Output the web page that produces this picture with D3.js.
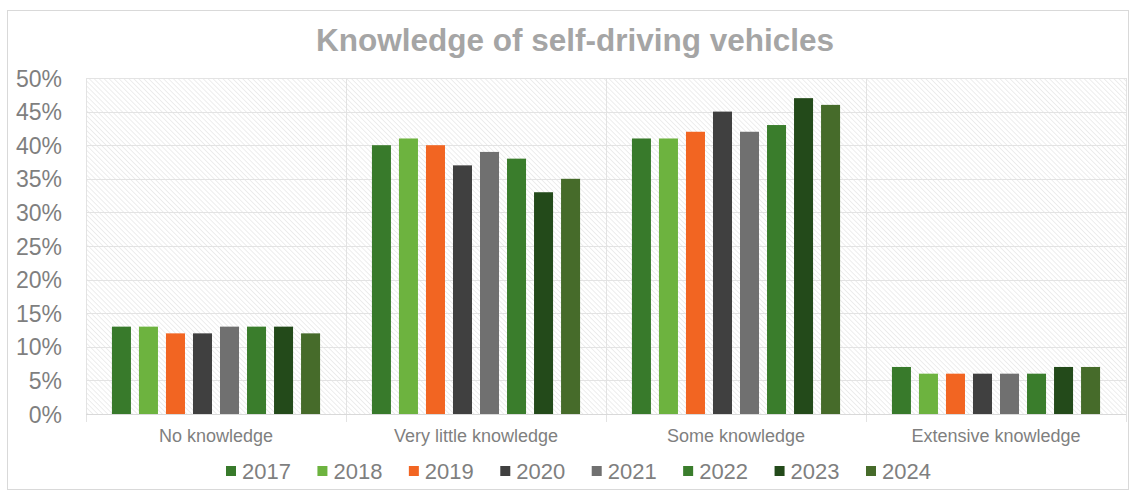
<!DOCTYPE html>
<html>
<head>
<meta charset="utf-8">
<script src="https://cdn.jsdelivr.net/npm/d3@7"></script>
<style>
  html, body { margin: 0; padding: 0; background: #ffffff; }
  svg { display: block; font-family: Arial, "Liberation Sans", sans-serif; }
</style>
</head>
<body>
<svg id="chart" width="1131" height="492"></svg>
<script>
// Survey answers, share of respondents by year
const categories = ["No knowledge", "Very little knowledge", "Some knowledge", "Extensive knowledge"];
const years = ["2017", "2018", "2019", "2020", "2021", "2022", "2023", "2024"];
const values2017 = [13, 40, 41, 7];
const values2018 = [13, 41, 41, 6];
const values2019 = [12, 40, 42, 6];
const values2020 = [12, 37, 45, 6];
const values2021 = [13, 39, 42, 6];
const values2022 = [13, 38, 43, 6];
const values2023 = [13, 33, 47, 7];
const values2024 = [12, 35, 46, 7];
const yTicks = [0, 5, 10, 15, 20, 25, 30, 35, 40, 45, 50];
const colors = ["#387a2b", "#6db33f", "#f26522", "#404040", "#707070", "#3a7d2c", "#234a1a", "#466b2a"];

const series = [values2017, values2018, values2019, values2020, values2021, values2022, values2023, values2024];

const svg = d3.select("#chart");
const margin = { left: 86, right: 1126, top: 78, bottom: 414 };

// Outer frame
svg.append("rect")
  .attr("x", 7.5).attr("y", 10.5)
  .attr("width", 1121).attr("height", 479)
  .attr("fill", "#ffffff").attr("stroke", "#d9d9d9").attr("stroke-width", 1);

// Diagonal hatch fill for the plot area
const defs = svg.append("defs");
const pat = defs.append("pattern")
  .attr("id", "hatch")
  .attr("patternUnits", "userSpaceOnUse")
  .attr("width", 3.5).attr("height", 3.5)
  .attr("patternTransform", "rotate(-45)");
pat.append("rect").attr("width", 3.5).attr("height", 3.5).attr("fill", "#ffffff");
pat.append("line")
  .attr("x1", 0).attr("y1", 0).attr("x2", 0).attr("y2", 3.5)
  .attr("stroke", "#e6e6e6").attr("stroke-width", 1.4);

const x0 = d3.scaleBand()
  .domain(categories)
  .range([margin.left, margin.right])
  .paddingInner(0).paddingOuter(0);

const x1 = d3.scaleBand()
  .domain(years)
  .range([0, x0.bandwidth()])
  .paddingInner(0.296)
  .paddingOuter(0.96);

const y = d3.scaleLinear()
  .domain([0, 50])
  .range([margin.bottom, margin.top]);

svg.append("rect")
  .attr("x", margin.left).attr("y", margin.top)
  .attr("width", margin.right - margin.left)
  .attr("height", margin.bottom - margin.top)
  .attr("fill", "url(#hatch)");

// Horizontal gridlines
svg.append("g")
  .selectAll("line")
  .data(yTicks)
  .join("line")
  .attr("x1", margin.left).attr("x2", margin.right)
  .attr("y1", d => Math.round(y(d)) + 0.5).attr("y2", d => Math.round(y(d)) + 0.5)
  .attr("stroke", "#e3e3e3").attr("stroke-width", 1);

// Vertical category separators (extend below the axis as tick marks)
const seps = categories.map(c => x0(c)).concat([margin.right]);
svg.append("g")
  .selectAll("line")
  .data(seps)
  .join("line")
  .attr("x1", d => Math.round(d) + 0.5).attr("x2", d => Math.round(d) + 0.5)
  .attr("y1", margin.top).attr("y2", margin.bottom + 8)
  .attr("stroke", "#e3e3e3").attr("stroke-width", 1);

// Baseline
svg.append("line")
  .attr("x1", margin.left).attr("x2", margin.right)
  .attr("y1", margin.bottom + 0.5).attr("y2", margin.bottom + 0.5)
  .attr("stroke", "#d9d9d9");

// Bars
const barData = [];
categories.forEach((c, ci) => {
  years.forEach((yr, yi) => {
    barData.push({ cat: c, year: yr, value: series[yi][ci], color: colors[yi] });
  });
});

svg.append("g")
  .selectAll("rect")
  .data(barData)
  .join("rect")
  .attr("x", d => x0(d.cat) + x1(d.year))
  .attr("y", d => y(d.value))
  .attr("width", x1.bandwidth())
  .attr("height", d => y(0) - y(d.value))
  .attr("fill", d => d.color);

// Y axis labels
const yAxis = d3.axisLeft(y)
  .tickValues(yTicks)
  .tickFormat(d => d + "%")
  .tickSize(0)
  .tickPadding(0);
const yg = svg.append("g")
  .attr("transform", `translate(${margin.left - 24},0)`)
  .call(yAxis);
yg.select(".domain").remove();
yg.selectAll("text")
  .attr("fill", "#7f7f7f")
  .style("font-size", "23px")
  .attr("dy", "0.35em");

// Category labels
const xAxis = d3.axisBottom(x0).tickSize(0).tickPadding(0);
const xg = svg.append("g")
  .attr("transform", `translate(0,${margin.bottom + 15})`)
  .call(xAxis);
xg.select(".domain").remove();
xg.selectAll("text")
  .attr("fill", "#7f7f7f")
  .style("font-size", "18px")
  .attr("dy", "0.71em");

// Title
svg.append("text")
  .attr("x", 575).attr("y", 51)
  .attr("text-anchor", "middle")
  .attr("fill", "#a5a5a5")
  .style("font-size", "31.5px")
  .style("font-weight", "bold")
  .text("Knowledge of self-driving vehicles");

// Legend
const legendX = d3.scalePoint().domain(years).range([226, 866]);
const lg = svg.append("g")
  .selectAll("g")
  .data(years.map((yr, i) => ({ yr, color: colors[i] })))
  .join("g")
  .attr("transform", d => `translate(${legendX(d.yr)},470)`);
lg.append("rect")
  .attr("x", 0).attr("y", -4)
  .attr("width", 10).attr("height", 10)
  .attr("fill", d => d.color);
lg.append("text")
  .attr("x", 16).attr("y", 1)
  .attr("dy", "0.35em")
  .attr("fill", "#7f7f7f")
  .style("font-size", "22px")
  .text(d => d.yr);
</script>
</body>
</html>
